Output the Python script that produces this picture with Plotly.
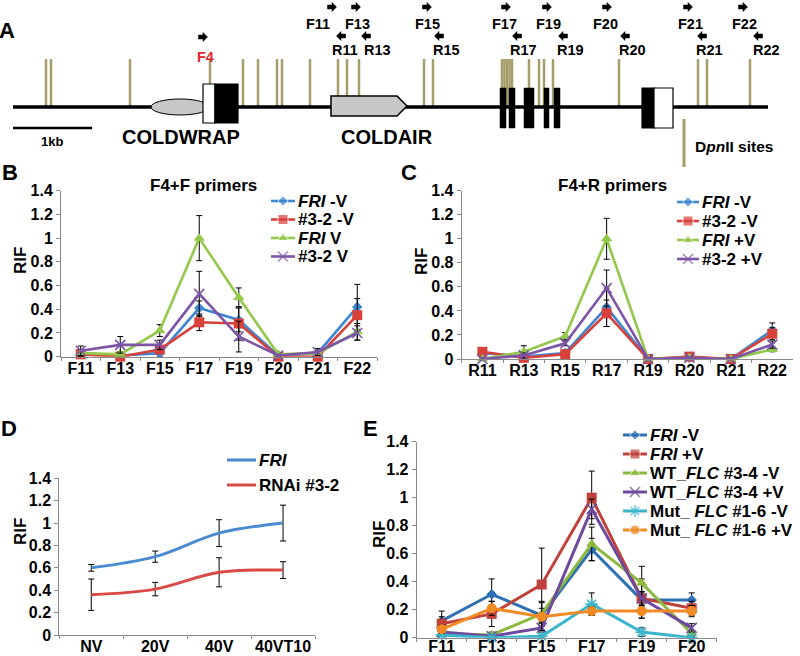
import plotly.graph_objects as go

W, H = 800, 656
FONT = "Liberation Sans, Arial, sans-serif"

# ---------------- data ----------------
B_CATS = ["F11", "F13", "F15", "F17", "F19", "F20", "F21", "F22"]
B_FRI_NV = [0.03, 0.01, 0.03, 0.41, 0.31, 0.01, 0.03, 0.42]
B_FRI_NV_ERR = [0.03, 0.02, 0.03, 0.06, 0.10, 0.01, 0.02, 0.19]
B_RNAI_NV = [0.02, 0.00, 0.06, 0.29, 0.28, 0.00, 0.00, 0.35]
B_RNAI_NV_ERR = [0.02, 0.01, 0.02, 0.07, 0.14, 0.01, 0.02, 0.14]
B_FRI_V = [0.03, 0.02, 0.22, 1.00, 0.50, 0.02, 0.03, 0.21]
B_FRI_V_ERR = [0.03, 0.02, 0.05, 0.19, 0.08, 0.01, 0.02, 0.07]
B_RNAI_V = [0.05, 0.10, 0.10, 0.53, 0.17, 0.01, 0.04, 0.20]
B_RNAI_V_ERR = [0.04, 0.07, 0.04, 0.19, 0.13, 0.01, 0.03, 0.06]
B_NAMES = ["<i>FRI</i> -V", "#3-2 -V", "<i>FRI</i> V", "#3-2 V"]

C_CATS = ["R11", "R13", "R15", "R17", "R19", "R20", "R21", "R22"]
C_FRI_NV = [0.05, 0.02, 0.05, 0.43, 0.00, 0.01, 0.00, 0.24]
C_FRI_NV_ERR = [0.02, 0.02, 0.02, 0.16, 0.01, 0.01, 0.01, 0.06]
C_RNAI_NV = [0.06, 0.01, 0.04, 0.38, 0.00, 0.02, 0.00, 0.21]
C_RNAI_NV_ERR = [0.02, 0.01, 0.02, 0.11, 0.01, 0.01, 0.01, 0.05]
C_FRI_V = [0.00, 0.06, 0.19, 1.00, 0.00, 0.01, 0.00, 0.08]
C_FRI_V_ERR = [0.01, 0.05, 0.03, 0.17, 0.01, 0.01, 0.01, 0.02]
C_RNAI_V = [0.00, 0.03, 0.13, 0.59, 0.00, 0.01, 0.00, 0.12]
C_RNAI_V_ERR = [0.01, 0.02, 0.02, 0.15, 0.01, 0.01, 0.01, 0.03]
C_NAMES = ["<i>FRI</i> -V", "#3-2 -V", "<i>FRI</i> +V", "#3-2 +V"]

D_CATS = ["NV", "20V", "40V", "40VT10"]
D_FRI = [0.60, 0.70, 0.91, 1.00]
D_FRI_ERR = [0.03, 0.05, 0.12, 0.16]
D_RNAI = [0.36, 0.41, 0.56, 0.58]
D_RNAI_ERR = [0.14, 0.06, 0.13, 0.075]
D_NAMES = ["<i>FRI</i>", "RNAi #3-2"]

E_CATS = ["F11", "F13", "F15", "F17", "F19", "F20"]
E_FRI_NV = [0.12, 0.31, 0.16, 0.63, 0.27, 0.27]
E_FRI_NV_ERR = [0.07, 0.11, 0.05, 0.08, 0.05, 0.05]
E_FRI_V = [0.10, 0.17, 0.38, 1.00, 0.28, 0.21]
E_FRI_V_ERR = [0.05, 0.09, 0.26, 0.19, 0.14, 0.05]
E_WT_NV = [0.03, 0.02, 0.17, 0.67, 0.39, 0.03]
E_WT_NV_ERR = [0.02, 0.02, 0.09, 0.12, 0.12, 0.02]
E_WT_V = [0.04, 0.01, 0.07, 0.92, 0.28, 0.07]
E_WT_V_ERR = [0.02, 0.01, 0.03, 0.07, 0.05, 0.03]
E_MUT_NV = [0.02, 0.00, 0.01, 0.24, 0.04, 0.00]
E_MUT_NV_ERR = [0.01, 0.01, 0.01, 0.08, 0.03, 0.01]
E_MUT_V = [0.06, 0.21, 0.15, 0.19, 0.19, 0.19]
E_MUT_V_ERR = [0.03, 0.05, 0.10, 0.03, 0.05, 0.04]
E_NAMES = ["<i>FRI</i> -V", "<i>FRI</i> +V", "WT_<i>FLC</i> #3-4 -V", "WT_<i>FLC</i> #3-4 +V",
           "Mut_ <i>FLC</i> #1-6 -V", "Mut_ <i>FLC</i> #1-6 +V"]

# diagram (panel A) positions along the locus, in diagram units
DPNII_SITES = [46, 51, 130, 210, 243, 258, 277, 282, 310, 338, 347, 359,
               424, 433, 502, 504.5, 507, 509.5, 512, 529, 539, 544, 553, 619, 698, 707, 750]
F_PRIMERS = ["F11", "F13", "F15", "F17", "F19", "F20", "F21", "F22"]
F_PRIMER_POS = [332, 356, 427, 506, 547, 607, 688, 743]
F_LABEL_POS = [318, 357, 427, 504, 548, 605, 690, 744]
R_PRIMERS = ["R11", "R13", "R15", "R17", "R19", "R20", "R21", "R22"]
R_PRIMER_POS = [341, 366, 439, 517, 563, 625, 702, 758]
R_LABEL_POS = [345, 377, 446, 523, 570, 632, 709, 766]
EXONS = [(500, 506), (509, 515), (524, 534), (544, 549), (554, 560)]

# ---------------- style ----------------
BLUE, RED, GREEN, PURPLE = "#3f86d0", "#d8403a", "#93c84a", "#7d55a8"
D_BLUE, D_RED = "#4a8ad0", "#d94a45"
E_COLORS = ["#2f6fb3", "#c0403a", "#8cb83e", "#6e4a9e", "#3ab5cc", "#f08a24"]
TAN = "#a59d6a"
AXC = "#8a8a8a"

def bf(size, color="black"):
    return dict(family=FONT, size=size, color=color, weight="bold")

fig = go.Figure()

PANELS = {
    "B": dict(xa="x", ya="y", xd=(61, 377), yd=(190.7, 356.7), stand=-3),
    "C": dict(xa="x2", ya="y2", xd=(461.7, 793), yd=(190.7, 359), stand=-3),
    "D": dict(xa="x3", ya="y3", xd=(59.3, 315), yd=(478.3, 635), stand=-3),
    "E": dict(xa="x4", ya="y4", xd=(416.7, 716.7), yd=(441.7, 637.7), stand=-6),
}

MARKERS = [
    dict(symbol="diamond", size=8),
    dict(symbol="square", size=10),
    dict(symbol="triangle-up", size=10),
    dict(symbol="x-thin", size=10),
    dict(symbol="asterisk", size=10),
    dict(symbol="circle", size=10),
]

def marker_for(i, color):
    m = dict(MARKERS[i])
    if m["symbol"] in ("x-thin", "asterisk"):
        m["line"] = dict(width=1.6, color=color)
    m["color"] = color
    return m

def add_series(panel, cats, vals, errs, color, midx, width=2.6, markers=True, shape="linear"):
    p = PANELS[panel]
    kw = dict(marker=marker_for(midx, color)) if markers else {}
    fig.add_trace(go.Scatter(
        x=cats, y=vals, xaxis=p["xa"], yaxis=p["ya"],
        mode="lines+markers" if markers else "lines",
        line=dict(color=color, width=width, shape=shape),
        error_y=dict(type="data", array=errs, color="black", thickness=1, width=3),
        cliponaxis=False, showlegend=False, hoverinfo="skip", **kw))

for i, (v, e, c) in enumerate([(B_FRI_NV, B_FRI_NV_ERR, BLUE), (B_RNAI_NV, B_RNAI_NV_ERR, RED),
                               (B_FRI_V, B_FRI_V_ERR, GREEN), (B_RNAI_V, B_RNAI_V_ERR, PURPLE)]):
    add_series("B", B_CATS, v, e, c, i)
for i, (v, e, c) in enumerate([(C_FRI_NV, C_FRI_NV_ERR, BLUE), (C_RNAI_NV, C_RNAI_NV_ERR, RED),
                               (C_FRI_V, C_FRI_V_ERR, GREEN), (C_RNAI_V, C_RNAI_V_ERR, PURPLE)]):
    add_series("C", C_CATS, v, e, c, i)
add_series("D", D_CATS, D_FRI, D_FRI_ERR, D_BLUE, 0, width=3, markers=False, shape="spline")
add_series("D", D_CATS, D_RNAI, D_RNAI_ERR, D_RED, 0, width=3, markers=False, shape="spline")
E_SERIES = [(E_FRI_NV, E_FRI_NV_ERR), (E_FRI_V, E_FRI_V_ERR), (E_WT_NV, E_WT_NV_ERR),
            (E_WT_V, E_WT_V_ERR), (E_MUT_NV, E_MUT_NV_ERR), (E_MUT_V, E_MUT_V_ERR)]
for i, (v, e) in enumerate(E_SERIES):
    add_series("E", E_CATS, v, e, E_COLORS[i], i, width=3)

# ---------------- axes ----------------
layout = dict(width=W, height=H, margin=dict(l=0, r=0, t=0, b=0, autoexpand=False),
              paper_bgcolor="white", plot_bgcolor="rgba(0,0,0,0)", showlegend=False)
for key, p in PANELS.items():
    xn = "xaxis" + p["xa"][1:]
    yn = "yaxis" + p["ya"][1:]
    ncat = {"B": len(B_CATS), "C": len(C_CATS), "D": len(D_CATS), "E": len(E_CATS)}[key]
    layout[xn] = dict(domain=[p["xd"][0] / W, p["xd"][1] / W], anchor=p["ya"], type="category",
                      range=[-0.5, ncat - 0.5], tickson="boundaries", ticks="outside", ticklen=3,
                      tickcolor=AXC, showline=True, linecolor=AXC, linewidth=1, showgrid=False,
                      zeroline=False, tickfont=bf(16), tickangle=0, automargin=False,
                      ticklabelstandoff=p["stand"], fixedrange=True)
    layout[yn] = dict(domain=[1 - p["yd"][1] / H, 1 - p["yd"][0] / H], anchor=p["xa"],
                      range=[0, 1.4], dtick=0.2, tick0=0, ticks="outside", ticklen=4, tickcolor=AXC,
                      showline=True, linecolor=AXC, linewidth=1, showgrid=False, zeroline=False,
                      tickfont=bf(16), automargin=False, fixedrange=True)
# full-figure overlay axis for the diagram and legends (pixel-like units)
layout["xaxis5"] = dict(domain=[0, 1], range=[0, W], visible=False, anchor="y5",
                        fixedrange=True, automargin=False)
layout["yaxis5"] = dict(domain=[0, 1], range=[H, 0], visible=False, anchor="x5",
                        fixedrange=True, automargin=False)
fig.update_layout(**layout)

shapes = []
annots = []

def txt(x, y, s, size, color="black", xanchor="center", angle=0):
    annots.append(dict(x=x, y=y, xref="x5", yref="y5", text=s, showarrow=False, font=bf(size, color),
                       xanchor=xanchor, yanchor="middle", textangle=angle))

def line(x0, y0, x1, y1, color, width):
    shapes.append(dict(type="line", xref="x5", yref="y5", x0=x0, y0=y0, x1=x1, y1=y1,
                       line=dict(color=color, width=width), layer="above"))

def rect(x0, y0, x1, y1, fill, lw=1.2):
    shapes.append(dict(type="rect", xref="x5", yref="y5", x0=x0, y0=y0, x1=x1, y1=y1,
                       fillcolor=fill, line=dict(color="black", width=lw), layer="above"))

def arrow(cx, cy, direction):
    s = 1 if direction == "r" else -1
    pts = [(cx - 4.5 * s, cy - 2), (cx, cy - 2), (cx, cy - 4.5), (cx + 4.5 * s, cy),
           (cx, cy + 4.5), (cx, cy + 2), (cx - 4.5 * s, cy + 2)]
    path = "M " + " L ".join(f"{x},{y}" for x, y in pts) + " Z"
    shapes.append(dict(type="path", xref="x5", yref="y5", path=path, fillcolor="black",
                       line=dict(color="black", width=0.5), layer="above"))

# ---------------- panel A ----------------
MAIN_Y = 107
for xs in DPNII_SITES:
    line(xs, 59, xs, MAIN_Y, TAN, 2.5)
line(13, MAIN_Y, 768, MAIN_Y, "black", 3.5)
shapes.append(dict(type="circle", xref="x5", yref="y5", x0=151, y0=99, x1=209, y1=115,
                   fillcolor="#c8c8c8", line=dict(color="black", width=1), layer="above"))
rect(203, 84, 215, 123, "white")
rect(215, 84, 238, 123, "black")
shapes.append(dict(type="path", xref="x5", yref="y5",
                   path="M 331,96 L 397,96 L 407,106 L 397,116 L 331,116 Z",
                   fillcolor="#c8c8c8", line=dict(color="black", width=1.5), layer="above"))
for x0, x1 in EXONS:
    rect(x0, 88, x1, 128, "black", 0.5)
rect(642, 88, 654, 128, "black")
rect(654, 88, 673, 128, "white")
line(13, 128, 92, 128, "black", 2.5)
line(684, 119, 684, 167, TAN, 3)

arrow(203, 37, "r")
txt(205, 57, "F4", 14.5, "#e0262c")
for name, ax, lx in zip(F_PRIMERS, F_PRIMER_POS, F_LABEL_POS):
    arrow(ax, 7, "r")
    txt(lx, 24, name, 14.5)
for name, ax, lx in zip(R_PRIMERS, R_PRIMER_POS, R_LABEL_POS):
    arrow(ax, 36, "l")
    txt(lx, 50, name, 14.5)
txt(181, 137, "COLDWRAP", 20)
txt(387, 137, "COLDAIR", 20)
txt(52, 141, "1kb", 13)
txt(693, 146, "D<i>pn</i>II sites", 15.5, xanchor="left")

# panel letters
txt(7, 30, "A", 22)
txt(10, 172, "B", 22)
txt(409, 172, "C", 22)
txt(9, 428, "D", 22)
txt(370, 428, "E", 22)

# titles / axis titles
txt(203, 185, "F4+F primers", 17)
txt(612, 185, "F4+R primers", 17)
for (x, y) in [(20, 261), (421, 262), (20, 532), (379, 535)]:
    txt(x, y, "RIF", 17, angle=-90)

# ---------------- legends (drawn manually) ----------------
def legend_entry(x0, x1, y, color, midx, label, lw=2.6, mk=True, size=17):
    tr = dict(x=[x0, (x0 + x1) / 2, x1], y=[y, y, y], xaxis="x5", yaxis="y5",
              line=dict(color=color, width=lw), showlegend=False, hoverinfo="skip", cliponaxis=False)
    if mk:
        m = marker_for(midx, color)
        m["size"] = [0, m["size"], 0]
        fig.add_trace(go.Scatter(mode="lines+markers", marker=m, **tr))
    else:
        fig.add_trace(go.Scatter(mode="lines", **tr))
    txt(x1 + 1, y, label, size, xanchor="left")

for i, (c, n) in enumerate(zip([BLUE, RED, GREEN, PURPLE], B_NAMES)):
    legend_entry(271, 295, 201 + 18.5 * i, c, i, n)
for i, (c, n) in enumerate(zip([BLUE, RED, GREEN, PURPLE], C_NAMES)):
    legend_entry(677, 699, 202 + 19 * i, c, i, n)
for i, (c, n) in enumerate(zip([D_BLUE, D_RED], D_NAMES)):
    legend_entry(227, 256, 460 + 25 * i, c, 0, n, lw=3, mk=False)
for i, n in enumerate(E_NAMES):
    legend_entry(623, 647, 435 + 19 * i, E_COLORS[i], i, n, lw=3, size=17)

fig.update_layout(shapes=shapes, annotations=annots)
fig.write_html("out.html", config={"displayModeBar": False, "staticPlot": True},
               post_script="document.body.style.margin='0';")
